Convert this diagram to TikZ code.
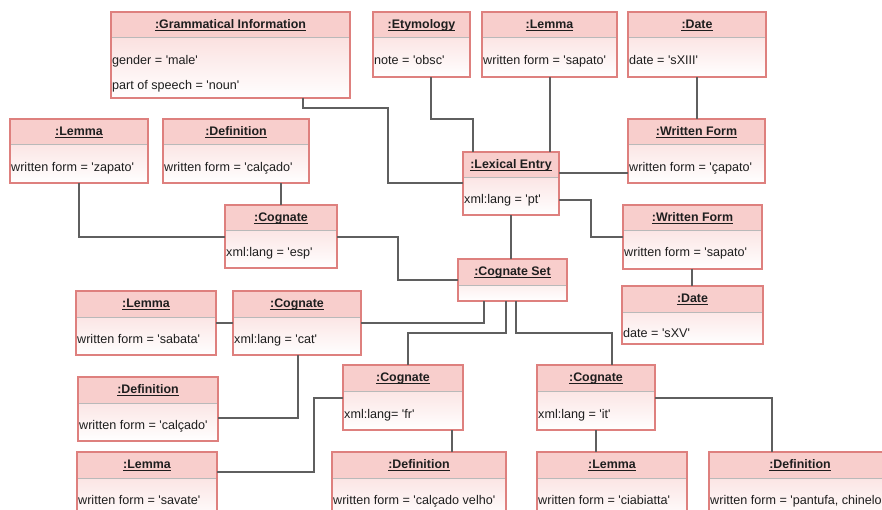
\documentclass[tikz,border=0pt]{standalone}
\usepackage{fontspec}
\setmainfont{Liberation Sans}[Ligatures=TeXOff]
\usetikzlibrary{fit}
\definecolor{hdrpink}{RGB}{248,206,204}
\definecolor{bodypink}{RGB}{249,212,211}
\definecolor{boxred}{RGB}{222,128,126}
\definecolor{sepgray}{RGB}{185,185,185}
\definecolor{linegray}{RGB}{95,95,95}
\definecolor{txt}{RGB}{30,30,30}
\tikzset{
  objshape/.style={inner sep=0pt, outer sep=0pt, top color=bodypink, bottom color=white, draw=none},
  hdr/.style={fill=hdrpink},
  sepln/.style={draw=sepgray, line width=1pt},
  border/.style={draw=boxred, line width=1.1pt},
  titletext/.style={font=\fontsize{12.4}{14}\selectfont\bfseries, text=txt, inner sep=0pt, anchor=base},
  ulline/.style={draw=txt, line width=0.9pt},
  attrtext/.style={font=\fontsize{12.6}{14}\selectfont, text=txt, inner sep=0pt, anchor=base west},
  conn/.style={draw=linegray, line width=1.3pt},
}
\newcommand\objbox[6]{%
  \node[objshape, fit={(#2,#3) (#4,#5)}] (#1) {};
  \fill[hdr] (#1.north west) rectangle ([yshift=-26pt]#1.north east);
  \draw[sepln] ([yshift=-26pt]#1.north west) -- ([yshift=-26pt]#1.north east);
  \draw[border] (#1.north west) rectangle (#1.south east);
  \node[titletext] (#1-t) at ([yshift=-16.5pt]#1.north) {#6};
  \draw[ulline] ([yshift=-1.6pt]#1-t.base west) -- ([yshift=-1.6pt]#1-t.base east);
}
\newcommand\objattr[4]{\node[attrtext] (#1) at (#2,#3) {#4};}
\begin{document}
\begin{tikzpicture}[x=1pt,y=-1pt]
\useasboundingbox (0,0) rectangle (882,510);
\clip (0,0) rectangle (882,510);
\fill[white] (0,0) rectangle (882,510);
% boxes
\objbox{gram}{111}{12}{350}{98}{:Grammatical Information}
\objattr{gram-a1}{112}{64.5}{gender = 'male'}
\objattr{gram-a2}{112}{89.5}{part of speech = 'noun'}
\objbox{etym}{373}{12}{470}{77}{:Etymology}
\objattr{etym-a1}{374}{64.5}{note = 'obsc'}
\objbox{lemS}{482}{12}{617}{77}{:Lemma}
\objattr{lemS-a1}{483}{64.5}{written form = 'sapato'}
\objbox{dateA}{628}{12}{766}{77}{:Date}
\objattr{dateA-a1}{629}{64.5}{date = 'sXIII'}
\objbox{lemZ}{10}{119}{148}{183}{:Lemma}
\objattr{lemZ-a1}{11}{172}{written form = 'zapato'}
\objbox{defA}{163}{119}{309}{183}{:Definition}
\objattr{defA-a1}{164}{172}{written form = 'calçado'}
\objbox{wfA}{628}{119}{765}{183}{:Written Form}
\objattr{wfA-a1}{629}{172}{written form = 'çapato'}
\objbox{lex}{463}{152}{559}{215}{:Lexical Entry}
\objattr{lex-a1}{464}{204}{xml:lang = 'pt'}
\objbox{cogEsp}{225}{205}{337}{268}{:Cognate}
\objattr{cogEsp-a1}{226}{257}{xml:lang = 'esp'}
\objbox{wfB}{623}{205}{762}{269}{:Written Form\hspace{3.5pt}}
\objattr{wfB-a1}{624}{257}{written form = 'sapato'}
\objbox{cset}{458}{259}{567}{301}{:Cognate Set}
\objbox{dateB}{622}{286}{763}{344}{:Date\hspace{3.5pt}}
\objattr{dateB-a1}{623}{337}{date = 'sXV'}
\objbox{lemSab}{76}{291}{216}{355}{:Lemma}
\objattr{lemSab-a1}{77}{343}{written form = 'sabata'}
\objbox{cogCat}{233}{291}{361}{355}{:Cognate}
\objattr{cogCat-a1}{234}{343}{xml:lang = 'cat'}
\objbox{defB}{78}{377}{218}{441}{:Definition}
\objattr{defB-a1}{79}{429}{written form = 'calçado'}
\objbox{cogFr}{343}{365}{463}{430}{:Cognate}
\objattr{cogFr-a1}{344}{418}{xml:lang= 'fr'}
\objbox{cogIt}{537}{365}{655}{430}{:Cognate}
\objattr{cogIt-a1}{538}{418}{xml:lang = 'it'}
\objbox{lemSav}{77}{452}{217}{520}{:Lemma}
\objattr{lemSav-a1}{78}{504}{written form = 'savate'}
\objbox{defC}{332}{452}{506}{520}{:Definition}
\objattr{defC-a1}{333}{504}{written form = 'calçado velho'}
\objbox{lemC}{537}{452}{687}{520}{:Lemma}
\objattr{lemC-a1}{538}{504}{written form = 'ciabiatta'}
\objbox{defD}{709}{452}{891}{520}{:Definition}
\objattr{defD-a1}{710}{504}{written form = 'pantufa, chinelo'}
% connectors
\draw[conn] (303,0 |- gram.south) -- (303,108) -- (388,108) -- (388,183) -- (lex.west |- 0,183);
\draw[conn] (431,0 |- etym.south) -- (431,119) -- (473,119) -- (473,0 |- lex.north);
\draw[conn] (550,0 |- lemS.south) -- (550,0 |- lex.north);
\draw[conn] (697,0 |- dateA.south) -- (697,0 |- wfA.north);
\draw[conn] (lex.east |- 0,173) -- (wfA.west |- 0,173);
\draw[conn] (lex.east |- 0,200) -- (591,200) -- (591,237) -- (wfB.west |- 0,237);
\draw[conn] (692,0 |- wfB.south) -- (692,0 |- dateB.north);
\draw[conn] (511,0 |- lex.south) -- (511,0 |- cset.north);
\draw[conn] (79,0 |- lemZ.south) -- (79,237) -- (cogEsp.west |- 0,237);
\draw[conn] (281,0 |- defA.south) -- (281,0 |- cogEsp.north);
\draw[conn] (cogEsp.east |- 0,237) -- (398,237) -- (398,280) -- (cset.west |- 0,280);
\draw[conn] (lemSab.east |- 0,323) -- (cogCat.west |- 0,323);
\draw[conn] (cogCat.east |- 0,323) -- (484,323) -- (484,0 |- cset.south);
\draw[conn] (298,0 |- cogCat.south) -- (298,418) -- (defB.east |- 0,418);
\draw[conn] (506,0 |- cset.south) -- (506,333) -- (408,333) -- (408,0 |- cogFr.north);
\draw[conn] (516,0 |- cset.south) -- (516,333) -- (612,333) -- (612,0 |- cogIt.north);
\draw[conn] (cogFr.west |- 0,398) -- (314,398) -- (314,472) -- (lemSav.east |- 0,472);
\draw[conn] (452,0 |- cogFr.south) -- (452,0 |- defC.north);
\draw[conn] (596,0 |- cogIt.south) -- (596,0 |- lemC.north);
\draw[conn] (cogIt.east |- 0,398) -- (772,398) -- (772,0 |- defD.north);
\end{tikzpicture}
\end{document}
